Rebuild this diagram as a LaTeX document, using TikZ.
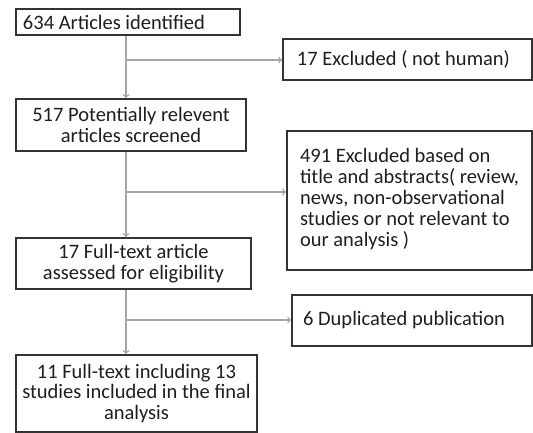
\documentclass[tikz,border=0pt]{standalone}
\usepackage{fontspec}
\setmainfont{Carlito}
\usetikzlibrary{arrows.meta}
\definecolor{boxline}{HTML}{333333}
\definecolor{conncol}{HTML}{A6A6A6}
\definecolor{textcol}{HTML}{1E1E1E}
\tikzset{
  fbox/.style={draw=boxline, line width=1.6pt, rectangle, inner sep=0pt,
    font=\fontsize{20.5}{20.8}\selectfont, text=textcol},
  conn/.style={draw=conncol, line width=1.1pt, -{To[length=4pt,width=7pt]}}
}
\begin{document}
\begin{tikzpicture}[x=1pt,y=-1pt]
\useasboundingbox (0,0) rectangle (533,433);
\node[fbox, minimum width=224pt, minimum height=26pt] (b1) at (128,22) {\makebox[224pt][l]{\hspace*{7pt}634 Articles identified}};
\node[fbox, minimum width=249pt, minimum height=41pt] (b2) at (407.5,59.5) {\hspace*{-8pt}17 Excluded ( not human)};
\node[fbox, minimum width=230pt, minimum height=52pt, align=center] (b3) at (131,125) {517 Potentially relevent\\articles screened};
\node[fbox, minimum width=245pt, minimum height=139pt] (b4) at (409.5,200.5) {\makebox[245pt][l]{\hspace*{13pt}\begin{tabular}{@{}l@{}}491 Excluded based on\\title and abstracts( review,\\news, non-observational\\studies or not relevant to\\our analysis )\end{tabular}}};
\node[fbox, minimum width=235pt, minimum height=51pt, align=center] (b5) at (133.5,263.5) {17 Full-text article\\assessed for eligibility};
\node[fbox, minimum width=240pt, minimum height=51pt] (b6) at (412,320.5) {\hspace*{-16pt}6 Duplicated publication};
\node[fbox, minimum width=241pt, minimum height=77pt, align=center] (b7) at (136.5,393.5) {11 Full-text including 13\\studies included in the final\\analysis};
\coordinate (sp) at (126,0);
\coordinate (j1) at (126,60);
\coordinate (j2) at (126,192);
\coordinate (j3) at (126,320);
\draw[conn] (b1.south -| sp) -- (b3.north -| sp);
\draw[conn] (b3.south -| sp) -- (b5.north -| sp);
\draw[conn] (b5.south -| sp) -- (b7.north -| sp);
\draw[conn] (j1) -- (j1 -| b2.west);
\draw[conn] (j2) -- (j2 -| b4.west);
\draw[conn] (j3) -- (j3 -| b6.west);
\end{tikzpicture}
\end{document}
